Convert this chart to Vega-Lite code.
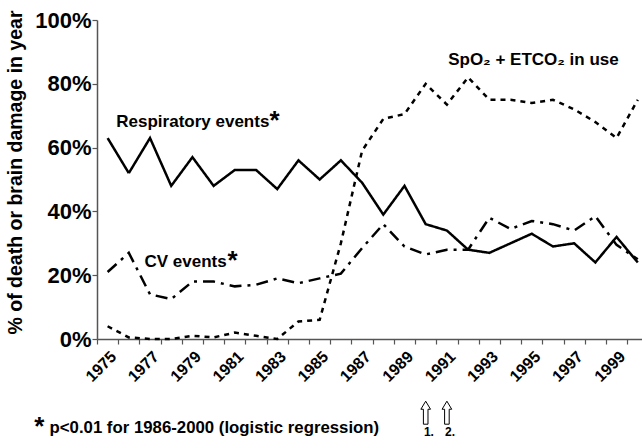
{
  "$schema": "https://vega.github.io/schema/vega-lite/v6.json",
  "width": 545,
  "height": 319,
  "autosize": "none",
  "padding": {"left": 97, "top": 20, "right": 0, "bottom": 102},
  "background": "white",
  "config": {"view": {"stroke": null}, "font": "Liberation Sans"},
  "datasets": {
    "series": [
      {"year": 1975, "series": "Respiratory", "value": 63}, {"year": 1976, "series": "Respiratory", "value": 52},
      {"year": 1977, "series": "Respiratory", "value": 63}, {"year": 1978, "series": "Respiratory", "value": 48},
      {"year": 1979, "series": "Respiratory", "value": 57}, {"year": 1980, "series": "Respiratory", "value": 48},
      {"year": 1981, "series": "Respiratory", "value": 53}, {"year": 1982, "series": "Respiratory", "value": 53},
      {"year": 1983, "series": "Respiratory", "value": 47}, {"year": 1984, "series": "Respiratory", "value": 56},
      {"year": 1985, "series": "Respiratory", "value": 50}, {"year": 1986, "series": "Respiratory", "value": 56},
      {"year": 1987, "series": "Respiratory", "value": 49}, {"year": 1988, "series": "Respiratory", "value": 39},
      {"year": 1989, "series": "Respiratory", "value": 48}, {"year": 1990, "series": "Respiratory", "value": 36},
      {"year": 1991, "series": "Respiratory", "value": 34}, {"year": 1992, "series": "Respiratory", "value": 28},
      {"year": 1993, "series": "Respiratory", "value": 27}, {"year": 1994, "series": "Respiratory", "value": 30},
      {"year": 1995, "series": "Respiratory", "value": 33}, {"year": 1996, "series": "Respiratory", "value": 29},
      {"year": 1997, "series": "Respiratory", "value": 30}, {"year": 1998, "series": "Respiratory", "value": 24},
      {"year": 1999, "series": "Respiratory", "value": 32}, {"year": 2000, "series": "Respiratory", "value": 24},
      {"year": 1975, "series": "CV", "value": 21}, {"year": 1976, "series": "CV", "value": 27},
      {"year": 1977, "series": "CV", "value": 14}, {"year": 1978, "series": "CV", "value": 12.5},
      {"year": 1979, "series": "CV", "value": 18}, {"year": 1980, "series": "CV", "value": 18},
      {"year": 1981, "series": "CV", "value": 16.5}, {"year": 1982, "series": "CV", "value": 17},
      {"year": 1983, "series": "CV", "value": 19}, {"year": 1984, "series": "CV", "value": 17.5},
      {"year": 1985, "series": "CV", "value": 19}, {"year": 1986, "series": "CV", "value": 20.5},
      {"year": 1987, "series": "CV", "value": 28.5}, {"year": 1988, "series": "CV", "value": 36},
      {"year": 1989, "series": "CV", "value": 29}, {"year": 1990, "series": "CV", "value": 26.5},
      {"year": 1991, "series": "CV", "value": 28}, {"year": 1992, "series": "CV", "value": 28},
      {"year": 1993, "series": "CV", "value": 38}, {"year": 1994, "series": "CV", "value": 34.5},
      {"year": 1995, "series": "CV", "value": 37}, {"year": 1996, "series": "CV", "value": 36},
      {"year": 1997, "series": "CV", "value": 34}, {"year": 1998, "series": "CV", "value": 38.5},
      {"year": 1999, "series": "CV", "value": 29.5}, {"year": 2000, "series": "CV", "value": 25},
      {"year": 1975, "series": "SpO2", "value": 4}, {"year": 1976, "series": "SpO2", "value": 0.5},
      {"year": 1977, "series": "SpO2", "value": 0}, {"year": 1978, "series": "SpO2", "value": 0},
      {"year": 1979, "series": "SpO2", "value": 1}, {"year": 1980, "series": "SpO2", "value": 0.5},
      {"year": 1981, "series": "SpO2", "value": 2}, {"year": 1982, "series": "SpO2", "value": 1},
      {"year": 1983, "series": "SpO2", "value": 0}, {"year": 1984, "series": "SpO2", "value": 5.5},
      {"year": 1985, "series": "SpO2", "value": 6}, {"year": 1986, "series": "SpO2", "value": 30},
      {"year": 1987, "series": "SpO2", "value": 59}, {"year": 1988, "series": "SpO2", "value": 69},
      {"year": 1989, "series": "SpO2", "value": 70.5}, {"year": 1990, "series": "SpO2", "value": 80},
      {"year": 1991, "series": "SpO2", "value": 73.5}, {"year": 1992, "series": "SpO2", "value": 82},
      {"year": 1993, "series": "SpO2", "value": 75}, {"year": 1994, "series": "SpO2", "value": 75},
      {"year": 1995, "series": "SpO2", "value": 74}, {"year": 1996, "series": "SpO2", "value": 75},
      {"year": 1997, "series": "SpO2", "value": 72}, {"year": 1998, "series": "SpO2", "value": 68},
      {"year": 1999, "series": "SpO2", "value": 63}, {"year": 2000, "series": "SpO2", "value": 75}
    ],
    "notes": [
      {"year": 1975.41, "value": 66.6, "text": "Respiratory events", "role": "label"},
      {"year": 1976.74, "value": 22.7, "text": "CV events", "role": "label"},
      {"year": 1991.06, "value": 85.8, "text": "SpO₂ + ETCO₂ in use", "role": "label"},
      {"year": 1982.63, "value": 65.9, "text": "*", "role": "star"},
      {"year": 1980.65, "value": 22.0, "text": "*", "role": "star"},
      {"year": 1971.54, "value": -30.0, "text": "*", "role": "star"},
      {"year": 1972.26, "value": -29.6, "text": "p<0.01 for 1986-2000 (logistic regression)", "role": "foot"},
      {"year": 1990.15, "value": -30.3, "text": "1.", "role": "num"},
      {"year": 1991.15, "value": -30.3, "text": "2.", "role": "num"},
      {"year": 1990, "value": -23.1, "text": "", "role": "arrow"},
      {"year": 1991, "value": -23.1, "text": "", "role": "arrow"}
    ]
  },
  "encoding": {
    "x": {
      "field": "year", "type": "quantitative",
      "scale": {"domain": [1974.5, 2000.2], "nice": false, "zero": false},
      "axis": {
        "title": null, "grid": false,
        "values": [1974.5, 1975, 1975.5, 1976.5, 1977, 1977.5, 1978.5, 1979, 1979.5, 1980.5, 1981, 1981.5, 1982.5, 1983, 1983.5, 1984.5, 1985, 1985.5, 1986.5, 1987, 1987.5, 1988.5, 1989, 1989.5, 1990.5, 1991, 1991.5, 1992.5, 1993, 1993.5, 1994.5, 1995, 1995.5, 1996.5, 1997, 1997.5, 1998.5, 1999, 1999.5],
        "labelExpr": "datum.value % 2 == 1 ? datum.value + '' : ''",
        "tickOpacity": {"condition": {"test": "datum.value % 1 != 0", "value": 1}, "value": 0},
        "tickSize": 5, "tickColor": "#555", "tickWidth": 1.2,
        "domainColor": "#555", "domainWidth": 1.5,
        "labelAngle": -45, "labelAlign": "right", "labelBaseline": "top",
        "labelFontSize": 16, "labelFontWeight": "bold", "labelColor": "black",
        "labelPadding": 4, "labelOverlap": false, "labelFlush": false
      }
    },
    "y": {
      "field": "value", "type": "quantitative",
      "scale": {"domain": [0, 100], "nice": false},
      "axis": {
        "title": "% of death or brain damage in year",
        "titleFontSize": 19.5, "titleFontWeight": "bold", "titleColor": "black",
        "titleX": -82, "titleY": 152, "titleAlign": "center", "titleBaseline": "middle", "titleAngle": -90,
        "grid": false,
        "values": [0, 20, 40, 60, 80, 100],
        "labelExpr": "datum.value + '%'",
        "labelFontSize": 22, "labelFontWeight": "bold", "labelColor": "black",
        "labelPadding": 1, "tickSize": 5, "tickColor": "#555", "tickWidth": 1.2,
        "domainColor": "#555", "domainWidth": 1.5
      }
    }
  },
  "layer": [
    {
      "data": {"name": "series"},
      "mark": {"type": "line", "strokeWidth": 2.5, "color": "black", "strokeCap": "butt"},
      "encoding": {
        "strokeDash": {
          "field": "series", "type": "nominal",
          "scale": {"domain": ["Respiratory", "CV", "SpO2"], "range": [[1, 0], [12, 6, 3, 6], [5, 5]]},
          "legend": null
        }
      }
    },
    {
      "data": {"name": "notes"},
      "transform": [{"filter": "datum.role == 'label'"}],
      "mark": {"type": "text", "align": "left", "baseline": "alphabetic", "fontSize": 17, "fontWeight": "bold", "color": "black"},
      "encoding": {"text": {"field": "text"}}
    },
    {
      "data": {"name": "notes"},
      "transform": [{"filter": "datum.role == 'star'"}],
      "mark": {"type": "text", "align": "left", "baseline": "alphabetic", "fontSize": 26, "fontWeight": "bold", "color": "black"},
      "encoding": {"text": {"field": "text"}}
    },
    {
      "data": {"name": "notes"},
      "transform": [{"filter": "datum.role == 'foot'"}],
      "mark": {"type": "text", "align": "left", "baseline": "alphabetic", "fontSize": 16.8, "fontWeight": "bold", "color": "black"},
      "encoding": {"text": {"field": "text"}}
    },
    {
      "data": {"name": "notes"},
      "transform": [{"filter": "datum.role == 'num'"}],
      "mark": {"type": "text", "align": "center", "baseline": "alphabetic", "fontSize": 12, "fontWeight": "bold", "color": "black"},
      "encoding": {"text": {"field": "text"}}
    },
    {
      "data": {"name": "notes"},
      "transform": [{"filter": "datum.role == 'arrow'"}],
      "mark": {
        "type": "point", "filled": true, "fill": "white", "stroke": "black", "strokeWidth": 1, "opacity": 1,
        "size": 529,
        "shape": "M-0.2,1 L-0.2,-0.3 L-0.42,-0.3 L0,-1 L0.42,-0.3 L0.2,-0.3 L0.2,1 Z"
      }
    }
  ]
}
